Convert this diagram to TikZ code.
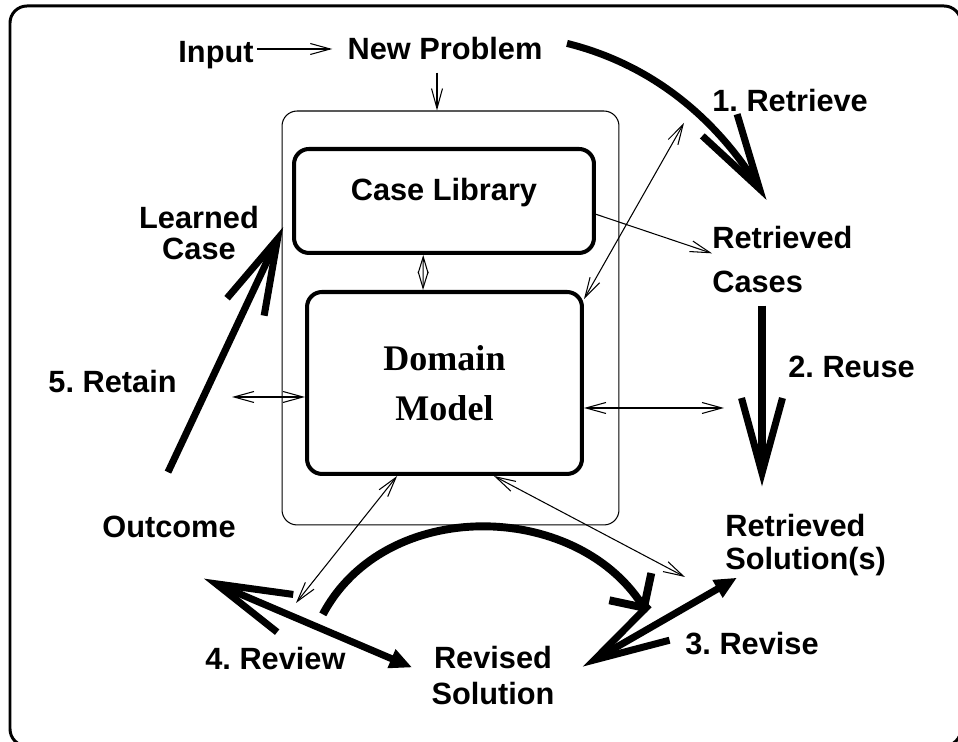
\documentclass[tikz,border=0pt]{standalone}
\usepackage{fontspec}
\setmainfont{Liberation Sans}
\newfontfamily\serifbold{Liberation Serif}
\usetikzlibrary{arrows.meta,calc,positioning}
\frenchspacing

\begin{document}
\begin{tikzpicture}[x=0.02cm, y=0.02cm,
    lbl/.style={font=\bfseries\fontsize{17.5}{21}\selectfont, inner sep=0pt},
    box/.style={draw, line width=2.3pt, rounded corners=0.3cm, inner sep=0pt},
    link/.style={line width=0.6pt, -{Straight Barb[length=4mm,width=2.2mm]}},
    twolink/.style={line width=0.6pt, {Straight Barb[length=4mm,width=2.2mm]}-{Straight Barb[length=4mm,width=2.2mm]}},
    phase/.style={line width=4pt, -{Straight Barb[length=1.5cm,width=0.82cm]}},
    pair/.style={line width=4pt, {Straight Barb[length=1.5cm,width=0.82cm]}-{Triangle[length=0.45cm,width=0.38cm]}}]
    \useasboundingbox (0,0) rectangle (958,742);
    \clip (0,0) rectangle (958,742);
    \draw[line width=1.7pt, rounded corners=0.34cm] (10,736) rectangle (961,-4);

    \node[lbl, anchor=base] (input) at (216,679) {Input};
    \node[lbl, anchor=base] (newprob) at (445,682) {New Problem};
    \node[lbl, anchor=base west] (retr) at (712,630) {1. Retrieve};
    \node[lbl, anchor=base west, align=left, font=\bfseries\fontsize{17.5}{25.6}\selectfont] (cases) at (712,449) {Retrieved\\Cases};
    \node[lbl, anchor=base west] (reuse) at (788,364) {2. Reuse};
    \node[lbl, anchor=base west, align=left, font=\bfseries\fontsize{17.5}{18.8}\selectfont] (sols) at (725,172) {Retrieved\\Solution(s)};
    \node[lbl, anchor=base west] (revise) at (685,87) {3. Revise};
    \node[lbl, anchor=base, align=center, font=\bfseries\fontsize{17.5}{21}\selectfont] (revsol) at (493,37) {Revised\\Solution};
    \node[lbl, anchor=base west] (review) at (205,72) {4. Review};
    \node[lbl, anchor=base west] (outcome) at (102,204) {Outcome};
    \node[lbl, anchor=base east] (retain) at (177,349) {5. Retain};
    \node[lbl, anchor=base, align=center, font=\bfseries\fontsize{17.5}{18.2}\selectfont] (learned) at (199,482) {Learned\\Case};

    % knowledge store
    \node[draw, line width=0.6pt, rounded corners=0.3cm, minimum width=6.74cm, minimum height=8.28cm] (store) at (450.5,424) {};
    \node[box, lbl, minimum width=6cm, minimum height=2.08cm, text height=12.5pt, text depth=12.5pt] (lib) at (444,541) {Case Library};
    \node[box, minimum width=5.5cm, minimum height=3.64cm, align=center, font=\serifbold\bfseries\fontsize{20.5}{28.5}\selectfont] (dom) at (444.5,359) {Domain\\Model};

    \coordinate (toretrieve) at (684,619);
    \coordinate (toretain) at (232,345);
    \coordinate (toreuse) at (724,334);
    \coordinate (toreview) at (296,139);
    \coordinate (torevise) at (685,165);

    \draw[link, shorten <=0.06cm, shorten >=0.3cm] (input.east |- newprob.west) -- (newprob.west);
    \draw[link] ($(newprob.south)+(-8,-12)$) -- ($(store.north)+(-13.5,0)$);
    \draw[link] (lib.-5) -- (cases.175);
    \draw[line width=0.6pt, {Straight Barb[length=3.3mm,width=2mm]}-{Straight Barb[length=3.3mm,width=2mm]}] (lib.249) -- (dom.103);
    \draw[twolink] (dom.31) -- (toretrieve);
    \draw[twolink] (toretain) -- (toretain -| dom.west);
    \draw[twolink] (toreuse -| dom.east) -- (toreuse);
    \draw[twolink] (dom.243) -- (toreview);
    \draw[twolink] (dom.-62) -- (torevise);

    % the cycle
    \draw[phase, shorten <=0.5cm, shorten >=0.6cm] (newprob.north east) to[out=-14, in=122] (cases.north);
    \draw[phase] ($(cases.south west)+(50,-12)$) -- ($(sols.north west)+(37,28)$);
    \draw[pair] ($(revsol.east)+(28,9)$) -- ($(sols.south west)+(12,-1)$);
    \draw[phase, line width=4.5pt, -{Straight Barb[length=0.5cm,width=1cm]}] ($(review.north east)+(-23,33)$) to[out=62, in=123, looseness=1.05] ($(revise.north west)+(-38,20)$);
    \draw[pair] ($(outcome.south)+(35,-40)$) -- ($(revsol.north west)+(-19,-22)$);
    \draw[phase] ($(outcome.north)+(-1,44)$) -- ($(learned.east)+(24,6)$);
\end{tikzpicture}
\end{document}
